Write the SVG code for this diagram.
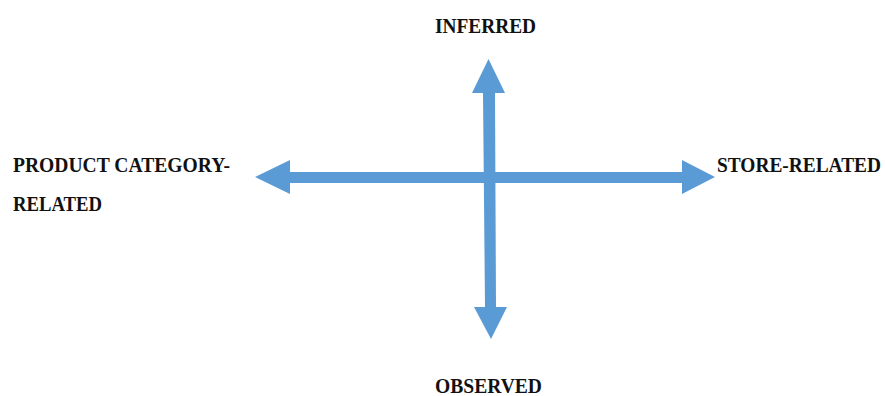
<svg xmlns="http://www.w3.org/2000/svg" width="885" height="396" viewBox="0 0 885 396">
  <style>
    .axis { fill: #5B9BD5; }
    .lbl { font-family: "Liberation Serif", "DejaVu Serif", serif; font-weight: bold; font-size: 20px; fill: #111; }
  </style>
  <rect width="885" height="396" fill="#fff"/>
  <g id="connectors">
    <!-- vertical double-headed arrow -->
    <polygon class="axis" points="488.5,59 505,93 495,93 496,307 507,307 491,339 474,307 485,307 483,93 472,93"/>
    <!-- horizontal double-headed arrow -->
    <polygon class="axis" points="255,177 290,160 290,172 682,172 682,160 715,177 682,194 682,183 290,183 290,194"/>
  </g>
  <g id="inferred"><text class="lbl" x="435" y="33" textLength="101" lengthAdjust="spacingAndGlyphs">INFERRED</text></g>
  <g id="observed"><text class="lbl" x="435" y="393" textLength="107" lengthAdjust="spacingAndGlyphs">OBSERVED</text></g>
  <g id="store-related"><text class="lbl" x="717" y="172" textLength="164" lengthAdjust="spacingAndGlyphs">STORE-RELATED</text></g>
  <g id="product-category-related">
    <text class="lbl" x="13" y="172" textLength="217" lengthAdjust="spacingAndGlyphs">PRODUCT CATEGORY-</text>
    <text class="lbl" x="13" y="211" textLength="89" lengthAdjust="spacingAndGlyphs">RELATED</text>
  </g>
</svg>
